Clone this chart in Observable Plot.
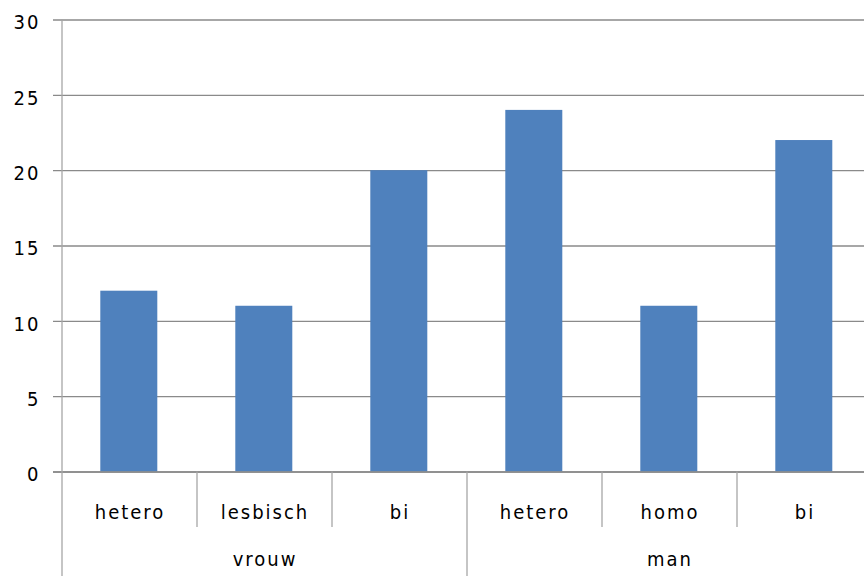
<!DOCTYPE html>
<html>
<head>
<meta charset="utf-8">
<script src="https://cdn.jsdelivr.net/npm/d3@7"></script>
<script src="https://cdn.jsdelivr.net/npm/@observablehq/plot@0.6"></script>
<style>
  html, body { margin: 0; padding: 0; background: #fff; }
  #chart svg { display: block; font-family: "Liberation Sans Narrow", "DejaVu Sans Condensed", "Liberation Sans", sans-serif; }
</style>
</head>
<body>
<div id="chart"></div>
<script>
const groups = ["vrouw", "vrouw", "vrouw", "man", "man", "man"];
const categories = ["hetero", "lesbisch", "bi", "hetero", "homo", "bi"];
const values = [12, 11, 20, 24, 11, 22];
const yTicks = [0, 5, 10, 15, 20, 25, 30];

const data = categories.map((c, i) => ({key: groups[i] + "|" + c + "|" + i, group: groups[i], cat: c, value: values[i]}));
const keys = data.map(d => d.key);
const groupNames = Array.from(new Set(groups));
const groupLabels = groupNames.map(g => {
  const members = data.filter(d => d.group === g);
  return {key: members[Math.floor(members.length / 2)].key, label: g};
});

const fontStyle = {fontSize: 20, fill: "#000"};

const chart = Plot.plot({
  width: 864,
  height: 576,
  marginLeft: 53,
  marginRight: 0,
  marginTop: 19.5,
  marginBottom: 104.5,
  x: {type: "band", domain: keys, range: [60.5, 873.5], paddingInner: 0.58, paddingOuter: 0.29, axis: null},
  y: {domain: [0, 30], range: [471.5, 19.5], axis: null},
  marks: [
    Plot.ruleY(yTicks, {stroke: "#8a8a8a", strokeWidth: 1.3, strokeOpacity: 1}),
    Plot.barY(data, {x: "key", y: "value", fill: "#4f81bd", dx: -0.7}),
    Plot.ruleY([0], {stroke: "#8a8a8a", strokeWidth: 1.3, strokeOpacity: 1}),
    Plot.text(yTicks, {y: d => d, text: d => String(d), frameAnchor: "left", textAnchor: "end", dx: -13, dy: 3, ...fontStyle}),
    Plot.text(data, {x: "key", text: "cat", frameAnchor: "bottom", dy: 47, ...fontStyle}),
    Plot.text(groupLabels, {x: "key", text: "label", frameAnchor: "bottom", dy: 94, ...fontStyle})
  ]
});

// letter spacing for all labels
d3.select(chart).selectAll("text").style("letter-spacing", "2px");

// category separators using the plot's x scale
const xs = chart.scale("x");
const step = xs.step;
const ys = chart.scale("y");
const y0 = ys.apply(0);
const svg = d3.select(chart);
const sep = svg.append("g").attr("stroke", "#a6a6a6").attr("stroke-width", 1.3);
data.forEach((d, i) => {
  const left = xs.apply(d.key) + xs.bandwidth / 2 - step / 2;
  const groupStart = i === 0 || data[i - 1].group !== d.group;
  sep.append("line")
    .attr("x1", left).attr("x2", left)
    .attr("y1", i === 0 ? ys.apply(30) : y0)
    .attr("y2", groupStart ? 576 : y0 + 55.5);
});

document.getElementById("chart").appendChild(chart);
</script>
</body>
</html>
